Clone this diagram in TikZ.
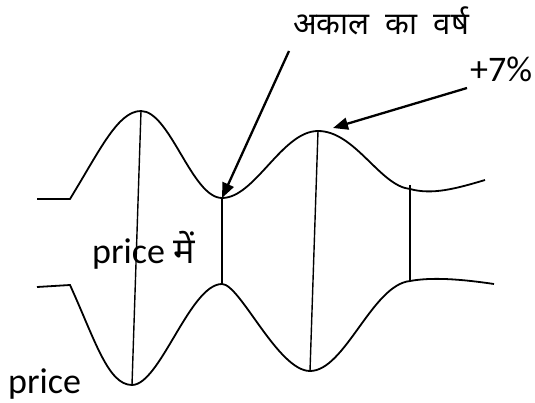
\documentclass[tikz,border=0pt]{standalone}
\usepackage{fontspec}
\setmainfont{Carlito}
\newfontfamily\hindifont[Script=Devanagari]{Noto Sans}
\usepackage{tikz}
\usetikzlibrary{arrows.meta}

\begin{document}
\begin{tikzpicture}[x=1pt, y=-1pt,
  wave/.style={line width=1.8pt},
  bar/.style={line width=1.4pt},
  arr/.style={-{Triangle[length=15pt, width=12pt]}, line width=2.3pt},
  lbl/.style={inner sep=0pt, anchor=base west, font=\fontsize{36}{40}\selectfont}
]
  \useasboundingbox (0,0) rectangle (535,403);

  % peaks and troughs
  \coordinate (t1) at (141,111);
  \coordinate (t2) at (222,198);
  \coordinate (t3) at (318,131);
  \coordinate (t4) at (410,189);
  \coordinate (b1) at (132,385);
  \coordinate (b2) at (222,284);
  \coordinate (b3) at (310,371);
  \coordinate (b4) at (410,281);

  % upper and lower curves
  \draw[wave] (37,199) -- (70,199) .. controls (100,150) and (118,111) .. (t1)
    .. controls (170,111) and (192,198) .. (t2)
    .. controls (255,198) and (282,131) .. (t3)
    .. controls (355,131) and (380,186) .. (t4)
    .. controls (432,195) and (455,189) .. (485,180);
  \draw[wave] (37,287) -- (70,285) .. controls (95,340) and (108,385) .. (b1)
    .. controls (160,385) and (190,284) .. (b2)
    .. controls (240,284) and (278,371) .. (b3)
    .. controls (345,371) and (372,285) .. (b4)
    .. controls (432,277) and (460,279) .. (494,284);

  \coordinate (t4top) at (410,185);
  \draw[bar] (t1) -- (b1);
  \draw[bar] (t2) -- (b2);
  \draw[bar] (t3) -- (b3);
  \draw[bar] (t4top) -- (b4);

  % labels
  \node[lbl, font=\hindifont\fontsize{31}{34}\selectfont] (akal) at (293,35) {अकाल\ \ का\ \ वर्ष};
  \node[lbl] (pct) at (470,82) {+7\%};
  \node[lbl] (pmid) at (92,263) {price \hindifont में};
  \node[lbl] (pbot) at (8,393) {price};

  \coordinate (a1) at (289,51);
  \coordinate (a2) at (467,88);
  \coordinate (t3r) at (333,128);
  \draw[arr] (a1) -- (t2);
  \draw[arr] (a2) -- (t3r);
\end{tikzpicture}
\end{document}
